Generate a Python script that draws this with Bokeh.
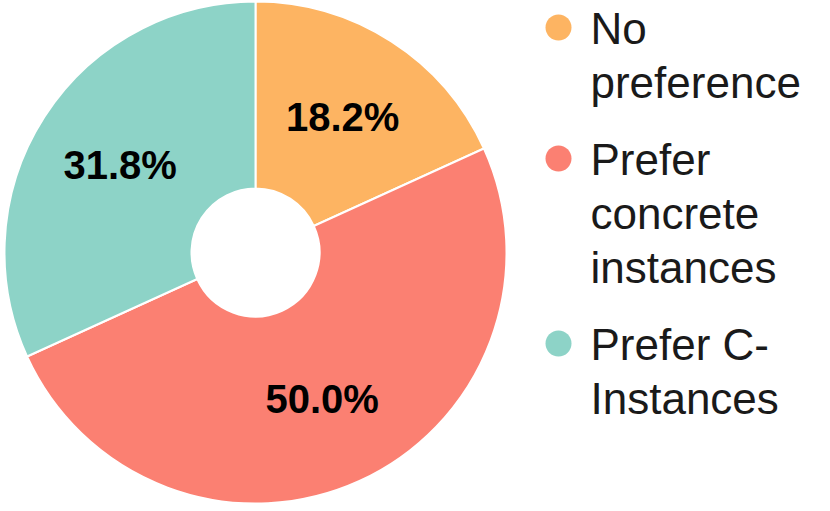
import numpy as np
from bokeh.plotting import figure
from bokeh.models import Range1d, ColumnDataSource
from bokeh.core.properties import value
from bokeh.embed import file_html
from bokeh.resources import INLINE

# ---- data ----
categories = ["No\npreference", "Prefer\nconcrete\ninstances", "Prefer C-\nInstances"]
shares = [18.2, 50.0, 31.8]
colors = ["#FDB462", "#FB8072", "#8DD3C7"]

# ---- layout (pixel units; y measured downward, stored negated) ----
W, H = 822, 503
p = figure(width=W, height=H, output_backend="svg", toolbar_location=None,
           x_range=Range1d(0, W), y_range=Range1d(-H, 0),
           min_border=0, outline_line_color=None, background_fill_color="white",
           border_fill_color="white")
p.axis.visible = False
p.grid.visible = False

cx, cy = 255, 252
R_out, R_in, R_lab = 251, 64, 161

frac = np.array(shares) / sum(shares)
cum_after = np.cumsum(frac)
cum_before = cum_after - frac
start = np.pi / 2 - 2 * np.pi * cum_after
end = np.pi / 2 - 2 * np.pi * cum_before
mid = (start + end) / 2

src = ColumnDataSource(dict(x=[cx] * 3, y=[-cy] * 3, start=start, end=end, color=colors))
p.annular_wedge(x="x", y="y", inner_radius=R_in, outer_radius=R_out,
                start_angle="start", end_angle="end", fill_color="color",
                line_color="white", line_width=2, source=src)

labels = [f"{s:.1f}%" for s in shares]
lx = cx + R_lab * np.cos(mid)
ly = -cy + R_lab * np.sin(mid)
p.text(x=lx, y=ly, text=labels, text_font=value("Liberation Sans"),
       text_font_style="bold", text_font_size="40px", text_color="black",
       text_align="center", text_baseline="middle")

# ---- legend (manual) ----
base0, line_h, item_gap = 28, 54, 23
tx, tys, texts = [], [], []
mx, my = [], []
n_lines = 0
for i, cat in enumerate(categories):
    lines = cat.split("\n")
    first = base0 + line_h * n_lines + item_gap * i
    mx.append(558)
    my.append(-(first - 1))
    for k, ln in enumerate(lines):
        tx.append(590)
        tys.append(-(first + line_h * k))
        texts.append(ln)
    n_lines += len(lines)

p.scatter(x=mx, y=my, size=26, marker="circle", fill_color=colors, line_color=None)
p.text(x=tx, y=tys, text=texts, text_font=value("Liberation Sans"),
       text_font_size="44px", text_color="#1a1a1a",
       text_align="left", text_baseline="alphabetic")

open("out.html", "w").write(file_html(p, INLINE))
